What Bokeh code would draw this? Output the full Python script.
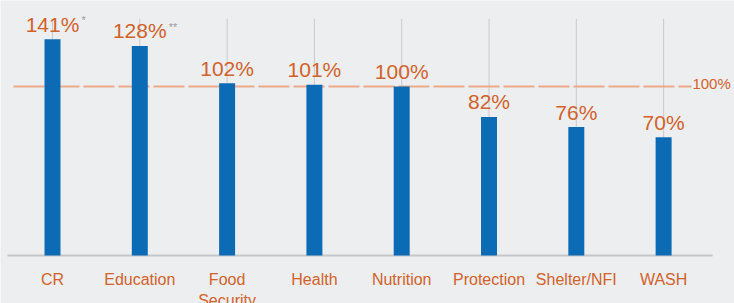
from bokeh.plotting import figure
from bokeh.models import Range1d, Label, ColumnDataSource
from bokeh.core.properties import value
from bokeh.embed import file_html
from bokeh.resources import INLINE

categories = ["CR", "Education", "Food\nSecurity", "Health", "Nutrition", "Protection", "Shelter/NFI", "WASH"]
bar_values = [128, 124, 102, 101, 100, 82, 76, 70]
value_labels = ["141%", "128%", "102%", "101%", "100%", "82%", "76%", "70%"]
notes = ["*", "**", "", "", "", "", "", ""]
guide_top = [140, 140, 140, 140, 140, 140, 140, 140]
target = 100
target_label = "100%"

BG = "#EDEEF0"
ORANGE = "#D2622B"
BLUE = "#0B6BB5"

n = len(categories)
idx = list(range(n))
src = ColumnDataSource(dict(x=idx, top=bar_values, lab=value_labels, note=notes,
                            gtop=guide_top, cat=categories, zero=[0] * n))

p = figure(width=734, height=303, output_backend="svg", toolbar_location=None,
           x_range=Range1d(-0.5956, 7.812), y_range=Range1d(-28.4, 150.9),
           min_border=0, background_fill_color=BG, border_fill_color=BG,
           outline_line_color=None)
p.axis.visible = False
p.xgrid.visible = False
p.ygrid.visible = False

# grey guide lines
p.segment(x0="x", x1="x", y0="top", y1="gtop", source=src, line_color="#C9CACC", line_width=1)

# baseline
p.segment(x0=[-0.515], x1=[n - 1 + 0.561], y0=[0], y1=[0], line_color="#C6C7C9", line_width=2)

# target line
p.segment(x0=[-0.447], x1=[n - 1 + 0.32], y0=[target], y1=[target],
          line_color="#EBA987", line_width=2, line_dash="31 4")
p.add_layout(Label(x=n - 1 + 0.33, y=target, text=target_label, text_align="left",
                   text_baseline="middle", y_offset=3, text_font="Liberation Sans",
                   text_font_size="15px", text_color=ORANGE))

# bars
p.vbar(x="x", top="top", width=0.183, bottom=0, source=src, fill_color=BLUE, line_color=None)

# value labels
p.text(x="x", y="top", text="lab", source=src, text_align="center", text_baseline="alphabetic",
       y_offset=-15, text_font=value("Liberation Sans"), text_font_size="21px", text_color=ORANGE)
p.text(x="x", y="top", text="note", source=src, text_align="left", text_baseline="top",
       x_offset=29, y_offset=-25, text_font=value("Liberation Sans"), text_font_size="11px",
       text_color="#9A9A9A")

# category labels
p.text(x="x", y="zero", text="cat", source=src, text_align="center", text_baseline="top",
       y_offset=15, text_font=value("Liberation Sans"), text_font_size="16px",
       text_color=ORANGE, text_line_height=1.25)

open("out.html", "w").write(file_html(p, INLINE))
